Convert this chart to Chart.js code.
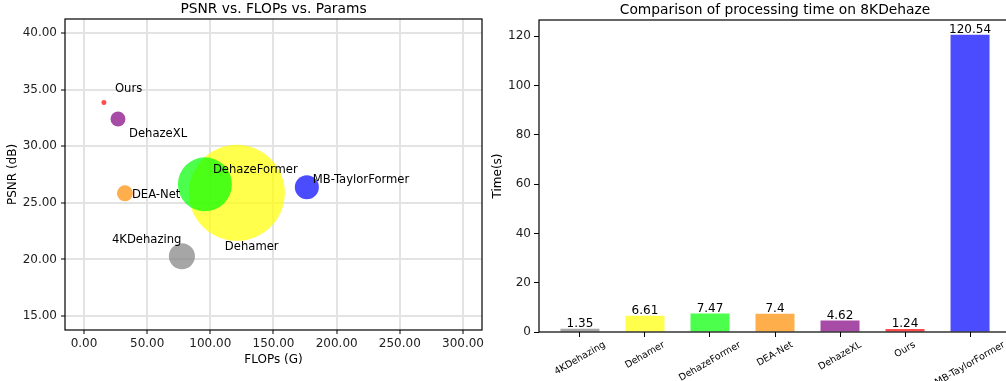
<!DOCTYPE html>
<html>
<head>
<meta charset="utf-8">
<script src="https://cdn.jsdelivr.net/npm/chart.js@4"></script>
<style>
html, body { margin: 0; padding: 0; background: #fff; overflow: hidden; width: 1006px; height: 381px; }
#left { position: absolute; left: 0; top: 0; width: 490px; height: 381px; }
#right { position: absolute; left: 490px; top: 0; width: 530px; height: 381px; }
</style>
</head>
<body>
<div id="left"><canvas id="scatter"></canvas></div>
<div id="right"><canvas id="bars"></canvas></div>
<script>
var methods = ['4KDehazing', 'Dehamer', 'DehazeFormer', 'DEA-Net', 'DehazeXL', 'Ours', 'MB-TaylorFormer'];
var flops = [77.5, 121, 95.7, 32.4, 26.9, 15.8, 176.4];
var psnr = [20.29, 25.89, 26.64, 25.85, 32.42, 33.87, 26.38];
var params = [10.6, 144, 45.6, 4.0, 3.5, 0.39, 9.0];
var times = [1.35, 6.61, 7.47, 7.4, 4.62, 1.24, 120.54];

var flopsTicks = [0, 50, 100, 150, 200, 250, 300];
var psnrTicks = [15, 20, 25, 30, 35, 40];
var timeTicks = [0, 20, 40, 60, 80, 100, 120];

var colors = ['rgba(128,128,128,0.7)', 'rgba(255,255,0,0.7)', 'rgba(0,255,0,0.7)', 'rgba(255,140,0,0.7)',
	'rgba(128,0,128,0.7)', 'rgba(255,0,0,0.7)', 'rgba(0,0,255,0.7)'];
// where each bubble's name sits relative to the bubble centre (px)
var labelOffsets = [[-70, -16], [-12, 54], [8, -14], [7, 2], [11, 15], [11, -14], [6, -7]];

var FONT = '"DejaVu Sans"';
Chart.defaults.font.family = FONT;
Chart.defaults.color = '#000';

// box around the plot area + title centred over it
var framePlugin = {
	id: 'frame',
	afterDraw: function(chart, args, opts) {
		var a = chart.chartArea, ctx = chart.ctx;
		ctx.save();
		ctx.strokeStyle = '#000';
		ctx.lineWidth = 1.2;
		ctx.strokeRect(a.left, a.top, a.right - a.left, a.bottom - a.top);
		ctx.fillStyle = '#000';
		ctx.font = '13.8px ' + FONT;
		ctx.textAlign = 'center';
		ctx.textBaseline = 'alphabetic';
		ctx.fillText(opts.title, (a.left + a.right) / 2, a.top - 6);
		ctx.restore();
	}
};

var bubbleNames = {
	id: 'bubbleNames',
	afterDraw: function(chart) {
		var ctx = chart.ctx;
		var pts = chart.getDatasetMeta(0).data;
		ctx.save();
		ctx.fillStyle = '#000';
		ctx.font = '11.6px ' + FONT;
		ctx.textAlign = 'left';
		ctx.textBaseline = 'middle';
		for (var i = 0; i < pts.length; i++) {
			ctx.fillText(methods[i], pts[i].x + labelOffsets[i][0], pts[i].y + labelOffsets[i][1]);
		}
		ctx.restore();
	}
};

var barValues = {
	id: 'barValues',
	afterDraw: function(chart) {
		var ctx = chart.ctx;
		var bars = chart.getDatasetMeta(0).data;
		var xs = chart.scales.x;
		ctx.save();
		ctx.fillStyle = '#000';
		ctx.font = '12px ' + FONT;
		ctx.textAlign = 'center';
		ctx.textBaseline = 'alphabetic';
		for (var i = 0; i < bars.length; i++) {
			ctx.fillText(String(times[i]), bars[i].x, bars[i].y - 2);
		}
		// rotated category names, centred under the tick
		ctx.font = '9.5px ' + FONT;
		ctx.textBaseline = 'middle';
		var ang = 30 * Math.PI / 180;
		for (var j = 0; j < methods.length; j++) {
			var w = ctx.measureText(methods[j]).width;
			var half = (w * Math.sin(ang) + 9.5 * Math.cos(ang)) / 2;
			ctx.save();
			ctx.translate(xs.getPixelForValue(j), chart.chartArea.bottom + 8 + half);
			ctx.rotate(-ang);
			ctx.fillText(methods[j], 0, 0);
			ctx.restore();
		}
		ctx.restore();
	}
};

new Chart(document.getElementById('scatter'), {
	type: 'bubble',
	data: {
		datasets: [{
			data: methods.map(function(m, i) {
				return {x: flops[i], y: psnr[i], r: 4 * Math.sqrt(params[i])};
			}),
			backgroundColor: colors,
			borderWidth: 0,
			hoverBorderWidth: 0
		}]
	},
	options: {
		responsive: true,
		maintainAspectRatio: false,
		animation: false,
		events: [],
		layout: {autoPadding: false, padding: {top: 19, right: 8, left: 0, bottom: 0}},
		plugins: {
			legend: {display: false},
			tooltip: {enabled: false},
			frame: {title: 'PSNR vs. FLOPs vs. Params'}
		},
		scales: {
			x: {
				type: 'linear',
				min: -15.04,
				max: 315.04,
				z: 1,
				afterBuildTicks: function(s) { s.ticks = flopsTicks.map(function(v) { return {value: v}; }); },
				afterFit: function(s) { s.height = 51; },
				grid: {color: '#e3e3e3', lineWidth: 2, tickColor: '#000', tickLength: 4, tickWidth: 1},
				border: {display: false},
				ticks: {font: {size: 12}, padding: 3, maxRotation: 0, color: '#222',
					callback: function(v) { return v.toFixed(2); }},
				title: {display: true, text: 'FLOPs (G)', font: {size: 12}, padding: {top: 0, bottom: 13.8}}
			},
			y: {
				type: 'linear',
				min: 13.77,
				max: 41.25,
				z: 1,
				afterBuildTicks: function(s) { s.ticks = psnrTicks.map(function(v) { return {value: v}; }); },
				afterFit: function(s) { s.width = 65; },
				grid: {color: '#e3e3e3', lineWidth: 2, tickColor: '#000', tickLength: 4, tickWidth: 1},
				border: {display: false},
				ticks: {font: {size: 12}, padding: 4, color: '#222',
					callback: function(v) { return v.toFixed(2); }},
				title: {display: true, text: 'PSNR (dB)', font: {size: 12}, padding: {top: 5.3, bottom: 0}}
			}
		}
	},
	plugins: [framePlugin, bubbleNames]
});

new Chart(document.getElementById('bars'), {
	type: 'bar',
	data: {
		datasets: [{
			data: methods.map(function(m, i) { return {x: i, y: times[i]}; }),
			backgroundColor: colors,
			borderWidth: 0,
			categoryPercentage: 1,
			barPercentage: 0.6
		}]
	},
	options: {
		responsive: true,
		maintainAspectRatio: false,
		animation: false,
		events: [],
		layout: {autoPadding: false, padding: {top: 20, right: 9, left: 0, bottom: 0}},
		plugins: {
			legend: {display: false},
			tooltip: {enabled: false},
			frame: {title: 'Comparison of processing time on 8KDehaze'}
		},
		scales: {
			x: {
				type: 'linear',
				offset: false,
				min: -0.63,
				max: 6.63,
				afterBuildTicks: function(s) { s.ticks = methods.map(function(m, i) { return {value: i}; }); },
				afterFit: function(s) { s.height = 49; },
				grid: {offset: false, drawOnChartArea: false, tickColor: '#000', tickLength: 5, tickWidth: 1},
				border: {display: false},
				ticks: {display: false}
			},
			y: {
				type: 'linear',
				min: 0,
				max: 126.57,
				afterBuildTicks: function(s) { s.ticks = timeTicks.map(function(v) { return {value: v}; }); },
				afterFit: function(s) { s.width = 49; },
				grid: {drawOnChartArea: false, tickColor: '#000', tickLength: 5, tickWidth: 1},
				border: {display: false},
				ticks: {font: {size: 12}, padding: 3, color: '#222'},
				title: {display: true, text: 'Time(s)', font: {size: 12}, padding: {top: 0.8, bottom: 0}}
			}
		}
	},
	plugins: [framePlugin, barValues]
});
</script>
</body>
</html>
